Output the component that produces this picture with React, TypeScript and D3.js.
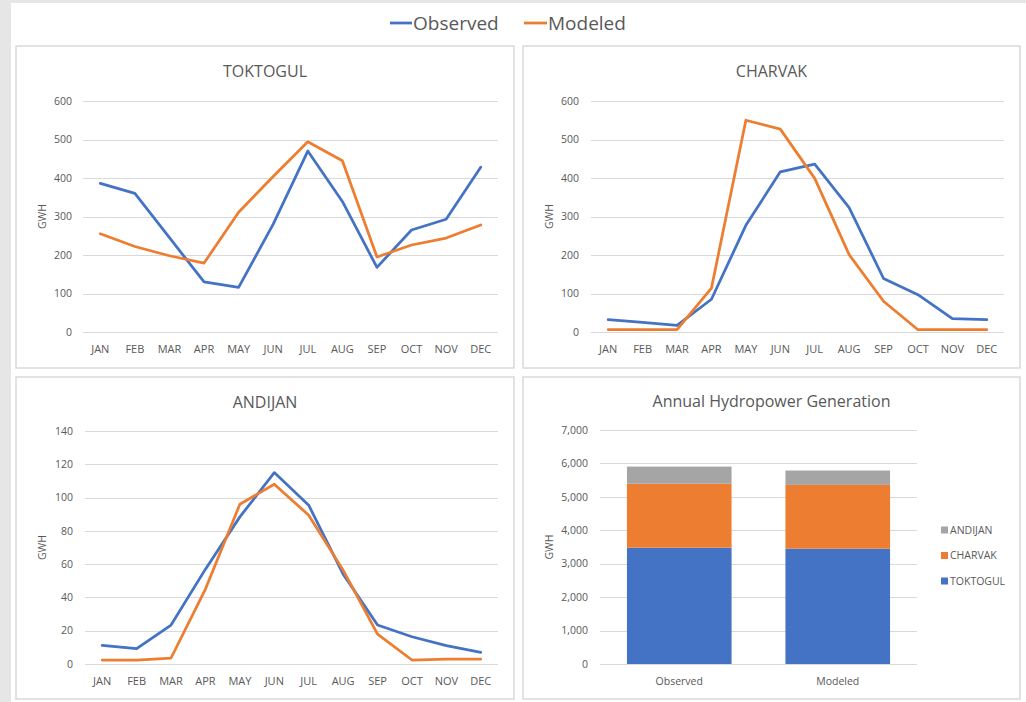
import React from "react";
import * as d3 from "d3";

// Monthly hydropower generation (GWh) for each plant
const months = ["JAN", "FEB", "MAR", "APR", "MAY", "JUN", "JUL", "AUG", "SEP", "OCT", "NOV", "DEC"];

const toktogulObserved = [386, 360, 245, 130, 116, 280, 470, 339, 168, 265, 293, 428];
const toktogulModeled = [255, 222, 198, 179, 311, 404, 494, 445, 195, 226, 244, 278];

const charvakObserved = [32, 25, 17, 85, 277, 416, 436, 323, 139, 97, 35, 32];
const charvakModeled = [6, 6, 6, 114, 550, 527, 399, 201, 80, 6, 6, 6];

const andijanObserved = [11.2, 9.2, 23.4, 57, 88.4, 115, 95.4, 54, 23.4, 16.4, 11, 7];
const andijanModeled = [2.4, 2.4, 3.6, 45, 96, 108, 89.4, 56.4, 18, 2.4, 3, 3];

const lineTicks = [0, 100, 200, 300, 400, 500, 600];
const andijanTicks = [0, 20, 40, 60, 80, 100, 120, 140];
const annualTicks = [0, 1000, 2000, 3000, 4000, 5000, 6000, 7000];

const scenarios = ["Observed", "Modeled"];
const plants = ["TOKTOGUL", "CHARVAK", "ANDIJAN"];

const BLUE = "#4472C4";
const ORANGE = "#ED7D31";
const GRAY = "#A5A5A5";
const TEXT = "#595959";
const GRID = "#D9D9D9";
const FONT = "'Open Sans', 'Noto Sans', sans-serif";

const sum = (a: number[]) => d3.sum(a);

// Annual totals per plant and scenario, stacked in the bar panel
const annualRows = [
  { scenario: "Observed", TOKTOGUL: sum(toktogulObserved), CHARVAK: sum(charvakObserved), ANDIJAN: sum(andijanObserved) },
  { scenario: "Modeled", TOKTOGUL: sum(toktogulModeled), CHARVAK: sum(charvakModeled), ANDIJAN: sum(andijanModeled) },
];
const plantColors: Record<string, string> = { TOKTOGUL: BLUE, CHARVAK: ORANGE, ANDIJAN: GRAY };

type Box = { x0: number; x1: number; y0: number; y1: number };

function Frame({ box }: { box: Box }) {
  return (
    <rect x={box.x0} y={box.y0} width={box.x1 - box.x0} height={box.y1 - box.y0}
      fill="#fff" stroke={GRID} strokeWidth={1.5} />
  );
}

function YAxis({ y, ticks, xRight, fmt }: { y: d3.ScaleLinear<number, number>; ticks: number[]; xRight: number; fmt: (v: number) => string }) {
  return (
    <g>
      {ticks.map((t) => (
        <text key={t} x={xRight} y={y(t)} dy="0.35em" textAnchor="end" fontSize={10.5} fill={TEXT} fontFamily={FONT}>
          {fmt(t)}
        </text>
      ))}
    </g>
  );
}

function Grid({ y, ticks, x0, x1 }: { y: d3.ScaleLinear<number, number>; ticks: number[]; x0: number; x1: number }) {
  return (
    <g>
      {ticks.map((t) => (
        <line key={t} x1={x0} x2={x1} y1={Math.round(y(t)) + 0.5} y2={Math.round(y(t)) + 0.5} stroke={GRID} strokeWidth={1} />
      ))}
    </g>
  );
}

function LinePanel(props: {
  title: string; frame: Box; plot: Box; ticks: number[]; tickRight: number;
  observed: number[]; modeled: number[];
}) {
  const { title, frame, plot, ticks, tickRight, observed, modeled } = props;
  const x = d3.scalePoint<string>().domain(months).range([plot.x0, plot.x1]).padding(0.5);
  const y = d3.scaleLinear().domain([0, ticks[ticks.length - 1]]).range([plot.y1, plot.y0]);
  const line = d3.line<number>().x((_, i) => x(months[i]) as number).y((d) => y(d));
  const cx = (frame.x0 + frame.x1) / 2;
  return (
    <g>
      <Frame box={frame} />
      <text x={cx} y={frame.y0 + 25} dy="0.35em" textAnchor="middle" fontSize={16} fill={TEXT} fontFamily={FONT}>{title}</text>
      <Grid y={y} ticks={ticks} x0={plot.x0} x1={plot.x1} />
      <YAxis y={y} ticks={ticks} xRight={tickRight} fmt={(v) => String(v)} />
      <text transform={`translate(${frame.x0 + 26},${(plot.y0 + plot.y1) / 2}) rotate(-90)`} dy="0.35em" textAnchor="middle"
        fontSize={10.5} fill={TEXT} fontFamily={FONT}>GWH</text>
      {months.map((m) => (
        <text key={m} x={x(m)} y={plot.y1 + 17} dy="0.35em" textAnchor="middle" fontSize={11} fill={TEXT} fontFamily={FONT}>{m}</text>
      ))}
      <path d={line(observed) || ""} fill="none" stroke={BLUE} strokeWidth={2.75} strokeLinejoin="round" strokeLinecap="round" />
      <path d={line(modeled) || ""} fill="none" stroke={ORANGE} strokeWidth={2.75} strokeLinejoin="round" strokeLinecap="round" />
    </g>
  );
}

function BarPanel({ frame, plot }: { frame: Box; plot: Box }) {
  const x = d3.scaleBand<string>().domain(scenarios).range([plot.x0, plot.x1]).paddingInner(0.34).paddingOuter(0.17);
  const y = d3.scaleLinear().domain([0, 7000]).range([plot.y1, plot.y0]);
  const stack = d3.stack<any>().keys(plants)(annualRows);
  const fmt = d3.format(",");
  const cx = (frame.x0 + frame.x1) / 2;
  const legendItems = [...plants].reverse();
  return (
    <g>
      <Frame box={frame} />
      <text x={cx} y={frame.y0 + 24} dy="0.35em" textAnchor="middle" fontSize={16} fill={TEXT} fontFamily={FONT}>Annual Hydropower Generation</text>
      <Grid y={y} ticks={annualTicks} x0={plot.x0} x1={plot.x1} />
      <YAxis y={y} ticks={annualTicks} xRight={plot.x0 - 12} fmt={fmt} />
      <text transform={`translate(${frame.x0 + 26},${(plot.y0 + plot.y1) / 2}) rotate(-90)`} dy="0.35em" textAnchor="middle"
        fontSize={10.5} fill={TEXT} fontFamily={FONT}>GWH</text>
      {stack.map((layer) => (
        <g key={layer.key} fill={plantColors[layer.key]}>
          {layer.map((d, i) => (
            <rect key={i} x={x(annualRows[i].scenario)} width={x.bandwidth()} y={y(d[1])} height={y(d[0]) - y(d[1])} />
          ))}
        </g>
      ))}
      {scenarios.map((s) => (
        <text key={s} x={(x(s) as number) + x.bandwidth() / 2} y={plot.y1 + 17} dy="0.35em" textAnchor="middle"
          fontSize={10.5} fill={TEXT} fontFamily={FONT}>{s}</text>
      ))}
      {legendItems.map((p, i) => (
        <g key={p} transform={`translate(941,${530 + i * 25.5})`}>
          <rect x={0} y={-3.5} width={7} height={7} fill={plantColors[p]} />
          <text x={9} y={0} dy="0.35em" fontSize={10.5} fill={TEXT} fontFamily={FONT}>{p}</text>
        </g>
      ))}
    </g>
  );
}

export default function App() {
  return (
    <div style={{ position: "fixed", left: 0, top: 0 }}>
      <svg width={1026} height={702} style={{ display: "block", background: "#E7E6E6" }}>
        <rect x={11} y={3} width={1015} height={699} fill="#fff" />
        {/* shared legend */}
        <g fontFamily={FONT} fontSize={19} fill={TEXT}>
          <line x1={390} x2={412} y1={23} y2={23} stroke={BLUE} strokeWidth={2.75} />
          <text x={413} y={23} dy="0.35em">Observed</text>
          <line x1={524} x2={547} y1={23} y2={23} stroke={ORANGE} strokeWidth={2.75} />
          <text x={548} y={23} dy="0.35em">Modeled</text>
        </g>
        <LinePanel title="TOKTOGUL" frame={{ x0: 16, x1: 514, y0: 46, y1: 368 }} plot={{ x0: 83, x1: 498, y0: 101, y1: 332 }}
          ticks={lineTicks} tickRight={72} observed={toktogulObserved} modeled={toktogulModeled} />
        <LinePanel title="CHARVAK" frame={{ x0: 523, x1: 1020, y0: 46, y1: 368 }} plot={{ x0: 591, x1: 1004, y0: 101, y1: 332 }}
          ticks={lineTicks} tickRight={579} observed={charvakObserved} modeled={charvakModeled} />
        <LinePanel title="ANDIJAN" frame={{ x0: 16, x1: 514, y0: 377, y1: 699 }} plot={{ x0: 85, x1: 498, y0: 431, y1: 664 }}
          ticks={andijanTicks} tickRight={73} observed={andijanObserved} modeled={andijanModeled} />
        <BarPanel frame={{ x0: 523, x1: 1020, y0: 377, y1: 699 }} plot={{ x0: 600, x1: 917, y0: 430, y1: 664 }} />
      </svg>
    </div>
  );
}
